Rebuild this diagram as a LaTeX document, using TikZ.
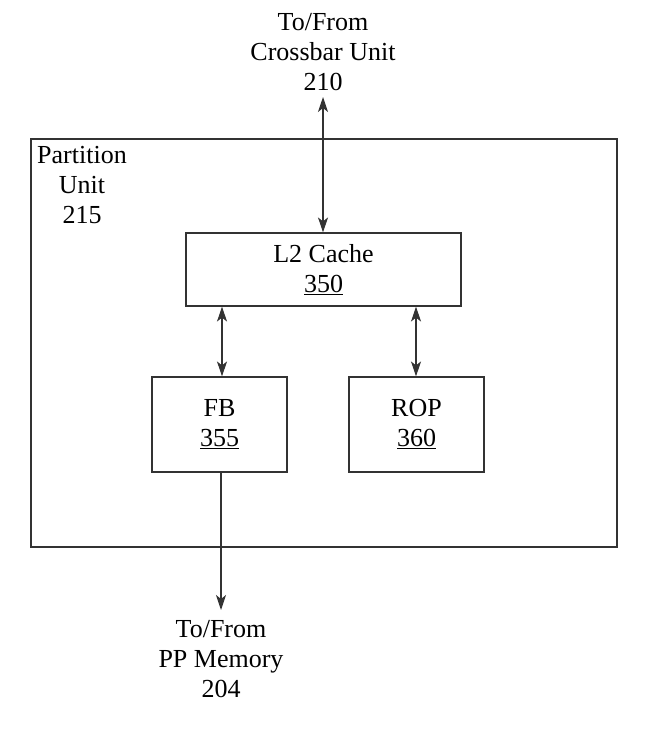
\documentclass[tikz,border=0pt]{standalone}
\usepackage{fontspec}
\setmainfont{Liberation Serif}
\usetikzlibrary{arrows.meta}
\begin{document}
\begin{tikzpicture}[x=1pt,y=-1pt,
  box/.style={draw=black!80,line width=1.1pt,inner sep=0pt},
  lbl/.style={font=\fontsize{26}{30}\selectfont,align=center,inner sep=0pt},
  conn/.style={line width=1.1pt,draw=black!80,{Stealth[length=15pt,width=10pt,inset=4pt]}-{Stealth[length=15pt,width=10pt,inset=4pt]}},
  oneway/.style={line width=1.1pt,draw=black!80,-{Stealth[length=15pt,width=10pt,inset=4pt]}}]
\useasboundingbox (0,0) rectangle (646,730);
\node[box,minimum width=586pt,minimum height=408pt] (pu) at (324,343) {};
\node[box,minimum width=275pt,minimum height=73pt,lbl] (l2) at (323.5,269.5) {L2 Cache\\\underline{350}};
\node[box,minimum width=135pt,minimum height=95pt,lbl] (fb) at (219.5,424.5) {FB\\\underline{355}};
\node[box,minimum width=135pt,minimum height=95pt,lbl] (rop) at (416.5,424.5) {ROP\\\underline{360}};
\node[lbl,anchor=south] (xbar) at (323,91) {To/From\\Crossbar Unit\\210};
\node[lbl,anchor=north] (mem) at (221,620) {To/From\\PP Memory\\204};
\node[lbl,anchor=north] (pul) at (82,146) {Partition\\Unit\\215};
\draw[conn] (xbar.south) ++(0,6) coordinate (xs) -- (xs |- l2.north);
\draw[conn] (222,0 |- l2.south) -- (222,0 |- fb.north);
\draw[conn] (416,0 |- l2.south) -- (416,0 |- rop.north);
\draw[oneway] (221,0 |- fb.south) -- ([yshift=10pt]mem.north);
\end{tikzpicture}
\end{document}
